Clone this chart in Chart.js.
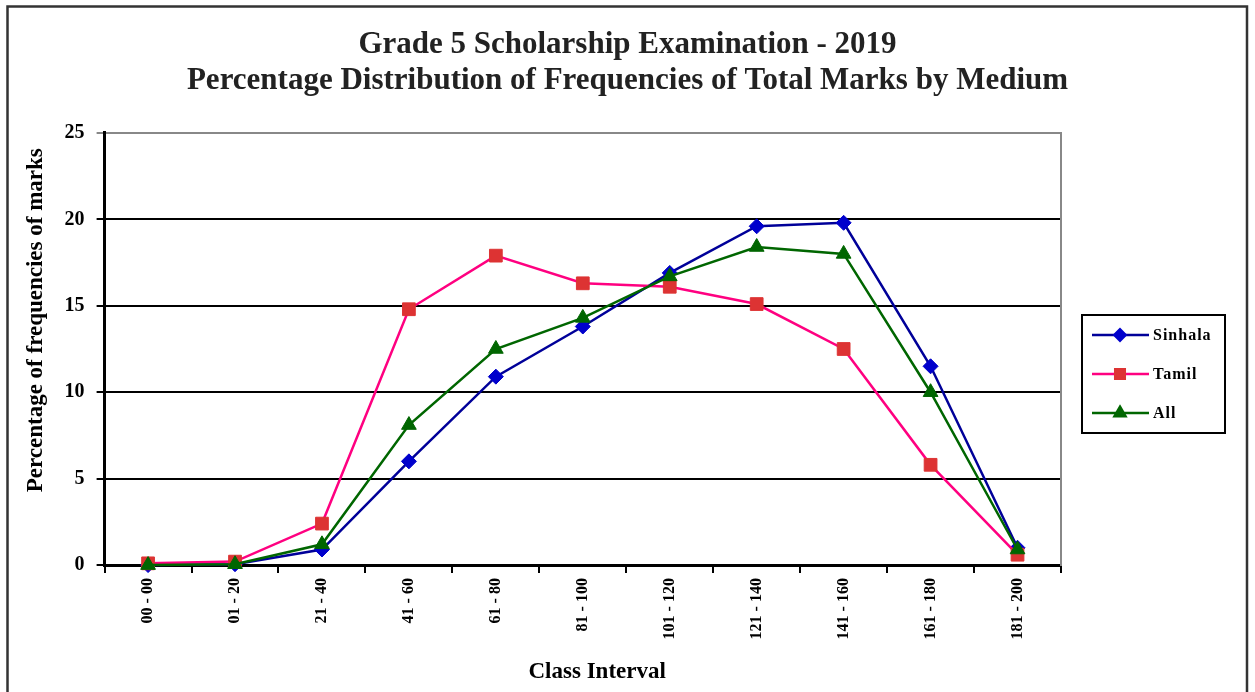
<!DOCTYPE html>
<html>
<head>
<meta charset="utf-8">
<script src="https://cdn.jsdelivr.net/npm/chart.js@4.4.1/dist/chart.umd.min.js"></script>
<style>
html,body{margin:0;padding:0;background:#fff;}
#wrap{width:1255px;height:692px;position:relative;}
</style>
</head>
<body>
<div id="wrap"><canvas id="c" width="1255" height="692"></canvas></div>
<script>
const titleLines = ['Grade 5 Scholarship Examination - 2019', 'Percentage Distribution of Frequencies of Total Marks by Medium'];
const xTitle = 'Class Interval';
const yTitle = 'Percentage of frequencies of marks';
const categories = ['00 - 00','01 - 20','21 - 40','41 - 60','61 - 80','81 - 100','101 - 120','121 - 140','141 - 160','161 - 180','181 - 200'];
const seriesNames = ['Sinhala', 'Tamil', 'All'];
const sinhala = [0, 0.05, 0.9, 6.0, 10.9, 13.8, 16.9, 19.6, 19.8, 11.5, 1.0];
const tamil   = [0.1, 0.2, 2.4, 14.8, 17.9, 16.3, 16.1, 15.1, 12.5, 5.8, 0.6];
const allMed  = [0, 0.05, 1.2, 8.1, 12.5, 14.3, 16.7, 18.4, 18.0, 10.0, 0.9];
const yTicks = [0, 5, 10, 15, 20, 25];

const SERIF = '"Liberation Serif", "Times New Roman", serif';
const pad = (s, n) => ' '.repeat(n) + s;

const framePlugin = {
  id: 'frame',
  beforeDraw(chart) {
    const ctx = chart.ctx;
    ctx.save();
    ctx.fillStyle = '#fff';
    ctx.fillRect(0, 0, chart.width, chart.height);
    ctx.strokeStyle = '#333';
    ctx.lineWidth = 2.5;
    ctx.beginPath();
    ctx.moveTo(7.5, 692);
    ctx.lineTo(7.5, 6.5);
    ctx.lineTo(1247, 6.5);
    ctx.lineTo(1247, 692);
    ctx.stroke();
    ctx.restore();
  }
};

const legendPlugin = {
  id: 'boxLegend',
  afterDraw(chart) {
    const ctx = chart.ctx;
    const bx = 1082, by = 315, bw = 143, bh = 118;
    ctx.save();
    ctx.strokeStyle = '#000';
    ctx.lineWidth = 2;
    ctx.strokeRect(bx, by, bw, bh);
    const rows = [335, 374, 413];
    chart.data.datasets.forEach((ds, i) => {
      const y = rows[i];
      ctx.strokeStyle = ds.borderColor;
      ctx.lineWidth = 2.5;
      ctx.beginPath();
      ctx.moveTo(1092, y);
      ctx.lineTo(1149, y);
      ctx.stroke();
      ctx.fillStyle = ds.pointBackgroundColor;
      ctx.strokeStyle = ds.pointBorderColor;
      Chart.helpers.drawPoint(ctx, {pointStyle: ds.pointStyle, radius: ds.pointRadius * 0.75, rotation: 0, borderWidth: 1}, 1120, y);
      ctx.fillStyle = '#000';
      ctx.font = 'bold 16px ' + SERIF;
      ctx.textBaseline = 'middle';
      ctx.textAlign = 'left';
      try { ctx.letterSpacing = '1px'; } catch (e) {}
      ctx.fillText(ds.label, 1153, y + 1);
    });
    ctx.restore();
  }
};

new Chart(document.getElementById('c'), {
  type: 'line',
  data: {
    labels: categories,
    datasets: [
      {
        label: seriesNames[0], data: sinhala, order: 2,
        borderColor: '#000099', borderWidth: 2.5,
        pointStyle: 'rectRot', pointRadius: 7.5,
        pointBackgroundColor: '#0000cc', pointBorderColor: '#0000cc', pointBorderWidth: 1,
        tension: 0, clip: false
      },
      {
        label: seriesNames[1], data: tamil, order: 1,
        borderColor: '#ff0080', borderWidth: 2.5,
        pointStyle: 'rect', pointRadius: 9,
        pointBackgroundColor: '#dd3333', pointBorderColor: '#dd3333', pointBorderWidth: 1,
        tension: 0, clip: false
      },
      {
        label: seriesNames[2], data: allMed, order: 0,
        borderColor: '#006600', borderWidth: 2.5,
        pointStyle: 'triangle', pointRadius: 8.5,
        pointBackgroundColor: '#006600', pointBorderColor: '#006600', pointBorderWidth: 1,
        tension: 0, clip: false
      }
    ]
  },
  options: {
    responsive: false,
    animation: false,
    devicePixelRatio: 1,
    layout: { padding: { left: 0, right: 0, top: 0, bottom: 0 } },
    plugins: {
      legend: { display: false },
      tooltip: { enabled: false },
      title: {
        display: true,
        text: titleLines,
        color: '#222',
        font: { family: SERIF, size: 31, weight: 'bold', lineHeight: 1.16 },
        padding: { top: 27, bottom: 34 }
      }
    },
    scales: {
      x: {
        type: 'category',
        offset: true,
        grid: { offset: true, drawOnChartArea: false, drawTicks: true, tickLength: 8, color: '#000', lineWidth: 2 },
        border: { display: true, color: '#000', width: 3 },
        ticks: {
          color: '#000', maxRotation: 90, minRotation: 90, autoSkip: false, padding: 5,
          font: { family: SERIF, size: 16, weight: 'bold' }
        },
        title: {
          display: true, text: pad(xTitle, 5), color: '#000',
          font: { family: SERIF, size: 23, weight: 'bold', lineHeight: 1.2 },
          padding: { top: 14, bottom: 6 }
        }
      },
      y: {
        type: 'linear', position: 'left',
        min: 0, max: 25,
        afterBuildTicks(scale) { scale.ticks = yTicks.map(v => ({ value: v })); },
        grid: {
          color: (c) => (c.tick && c.tick.value === 25) ? '#888' : '#000',
          lineWidth: 2, tickLength: 8, drawTicks: true
        },
        border: { display: true, color: '#000', width: 3 },
        ticks: {
          color: '#000', padding: 12,
          font: { family: SERIF, size: 20, weight: 'bold' }
        },
        title: {
          display: true, text: pad(yTitle, 10), color: '#000',
          font: { family: SERIF, size: 23, weight: 'bold', lineHeight: 1.2 },
          padding: { top: 22, bottom: 3 }
        }
      },
      y2: {
        type: 'linear', position: 'right', min: 0, max: 25,
        grid: { display: false, drawTicks: false },
        ticks: { display: false },
        border: { display: true, color: '#888', width: 2 },
        afterFit(scale) { scale.width = 194; }
      }
    }
  },
  plugins: [framePlugin, legendPlugin]
});
</script>
</body>
</html>
